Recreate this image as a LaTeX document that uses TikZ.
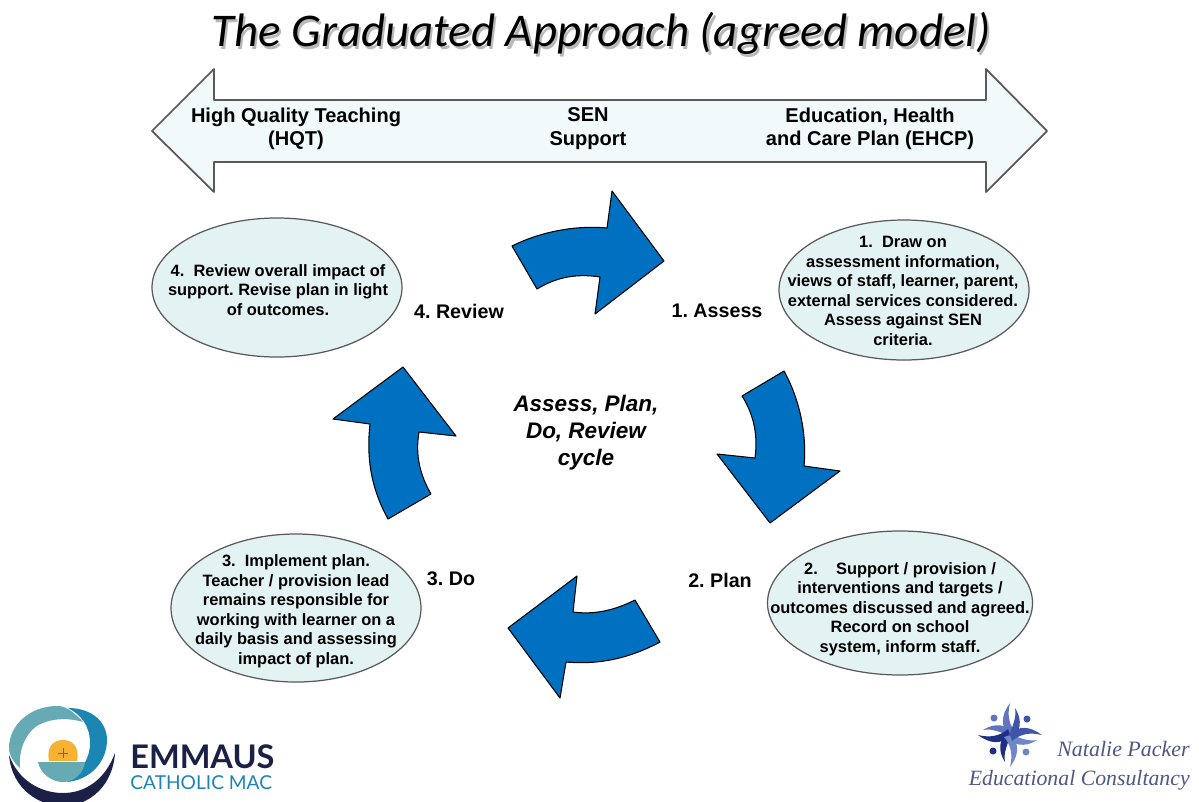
\documentclass[tikz,border=0pt]{standalone}
\usepackage{fontspec}
\setmainfont{Liberation Sans}
\newfontfamily\titlefont{Carlito}
\newfontfamily\logofont{Lato}
\newfontfamily\consfont{Liberation Serif}
\usetikzlibrary{shapes.geometric}
\definecolor{cycleblue}{HTML}{0070C0}
\definecolor{ovalfill}{HTML}{E3F2F3}
\definecolor{bandfill}{HTML}{F1F9FA}
\definecolor{mactealc}{HTML}{66ABB3}
\definecolor{macblue}{HTML}{1C86B3}
\definecolor{macnavy}{HTML}{1B2047}
\definecolor{macsun}{HTML}{F7B233}
\definecolor{consink}{HTML}{4F5784}
\definecolor{consa}{HTML}{6075BC}
\definecolor{consb}{HTML}{3F55AA}
\definecolor{consc}{HTML}{1F2F85}
\definecolor{consd}{HTML}{6F86C8}
\tikzset{
  cyclearrow/.style={draw=black, fill=cycleblue, line width=0.6pt, line join=round},
  oval/.style={ellipse, draw=black!65, fill=ovalfill, line width=0.7pt, inner sep=0pt},
  ovaltext/.style={align=center, inner sep=0pt, font=\fontsize{9.35}{11.1}\selectfont\bfseries},
  steplabel/.style={font=\fontsize{11.2}{13}\selectfont\bfseries},
  bandtext/.style={align=center, font=\fontsize{11.4}{13.2}\selectfont\bfseries},
}
\frenchspacing
\begin{document}
\begin{tikzpicture}[x=0.02cm, y=-0.02cm]
\useasboundingbox (0,0) rectangle (1199,801);
\fill[white] (0,0) rectangle (1199,801);
% title
\node[anchor=base, text=black!28, font=\fontsize{26.7}{30}\selectfont\titlefont\itshape] (titleshadow) at (603.5,49) {The Graduated Approach (agreed model)};
\node[anchor=base, font=\fontsize{26.7}{30}\selectfont\titlefont\itshape] (title) at (601,46.5) {The Graduated Approach (agreed model)};
% band
\draw[draw=black!65, fill=bandfill, line width=1pt, line join=round] (152,131) -- (214,69) -- (214,100) -- (986,100) -- (986,69) -- (1047,131) -- (986,192) -- (986,162) -- (214,162) -- (214,192) -- cycle;
\node[bandtext] (hqt) at (296,128.5) {High Quality Teaching\\(HQT)};
\node[bandtext] (sen) at (588,128.5) {SEN\\Support};
\node[bandtext] (ehcp) at (870,128.5) {Education, Health\\and Care Plan (EHCP)};
% cycle arrows
\draw[cyclearrow] (512,246) .. controls (540,232) and (575,225) .. (607,228) -- (612,191) -- (664,261) -- (595,314) -- (600,277) .. controls (575,273) and (555,278) .. (537,289) -- cycle;
\draw[cyclearrow] (784,371) .. controls (800,400) and (807,435) .. (804,466) -- (840,471) -- (770,523) -- (717,454) -- (755,458) .. controls (758,435) and (754,415) .. (742,396) -- cycle;
\draw[cyclearrow] (660,642) .. controls (630,658) and (600,665) .. (566,662) -- (560,698) -- (508,628) -- (577,576) -- (573,612) .. controls (595,615) and (615,610) .. (635,600) -- cycle;
\draw[cyclearrow] (388,519) .. controls (372,490) and (366,460) .. (370,424) -- (333,419) -- (403,367) -- (456,436) -- (419,432) .. controls (415,455) and (420,475) .. (431,494) -- cycle;
% ovals
\node[oval, minimum width=250*0.02cm, minimum height=140*0.02cm] (assessoval) at (904,290) {};
\node[ovaltext] (assesstext) at (903,291) {1.\ \ Draw on\\assessment information,\\views of staff, learner, parent,\\external services considered.\\Assess against SEN\\criteria.};
\node[oval, minimum width=265*0.02cm, minimum height=144*0.02cm] (planoval) at (900,603) {};
\node[ovaltext] (plantext) at (900,609) {2.\ \ \ \ Support / provision /\\interventions and targets /\\outcomes discussed and agreed.\\Record on school\\system, inform staff.};
\node[oval, minimum width=250*0.02cm, minimum height=148*0.02cm] (dooval) at (296,608) {};
\node[ovaltext] (dotext) at (296,611) {3.\ \ Implement plan.\\Teacher / provision lead\\remains responsible for\\working with learner on a\\daily basis and assessing\\impact of plan.};
\node[oval, minimum width=250*0.02cm, minimum height=139*0.02cm] (reviewoval) at (277,287.5) {};
\node[ovaltext] (reviewtext) at (278,290) {4.\ \ Review overall impact of\\support. Revise plan in light\\of outcomes.};
% step labels
\node[steplabel] (assess) at (717,311) {1. Assess};
\node[steplabel] (plan) at (720,580) {2. Plan};
\node[steplabel] (do) at (451,579) {3. Do};
\node[steplabel] (review) at (459,311) {4. Review};
\node[align=center, font=\fontsize{12.8}{15.3}\selectfont\bfseries\itshape] (cycle) at (586,433) {Assess, Plan,\\Do, Review\\cycle};
% emmaus logo
\fill[macnavy] (9,755) .. controls (12,790) and (40,806) .. (63,806) .. controls (90,806) and (113,785) .. (115,753) .. controls (105,780) and (85,793) .. (63,793) .. controls (40,793) and (18,780) .. (9,755) -- cycle;
\fill[macblue] (68,708) .. controls (92,708) and (107,722) .. (107,740) .. controls (107,762) and (90,780) .. (67,782) .. controls (80,772) and (90,760) .. (90,743) .. controls (90,725) and (80,714) .. (68,708) -- cycle;
\fill[mactealc] (83,722) .. controls (72,710) and (65,706) .. (57,706) .. controls (30,706) and (9,725) .. (9,748) .. controls (9,755) and (14,763) .. (20,768) .. controls (18,748) and (28,728) .. (43,723) .. controls (55,718) and (70,718) .. (83,722) -- cycle;
\fill[macsun] (49,761) .. controls (46,745) and (55,740) .. (63,740) .. controls (71,740) and (80,745) .. (77,761) -- cycle;
\draw[black!60, line width=0.5pt] (63,748) -- (63,758) (58,753) -- (68,753);
\fill[mactealc] (38,762) -- (85,762) .. controls (84,772) and (75,782) .. (63,782) .. controls (50,782) and (40,772) .. (38,762) -- cycle;
\node[anchor=base west, inner sep=0pt, text=macnavy, font=\fontsize{18.5}{22}\selectfont\logofont\bfseries] (emmaus) at (130,768) {EMMAUS};
\node[anchor=base west, inner sep=0pt, text=macblue, font=\fontsize{10.9}{13}\selectfont\logofont] (mac) at (130,789) {CATHOLIC MAC};
% consultancy logo
\foreach \angle/\shade in {0/consa,90/consc,180/consd,270/consb}{
  \begin{scope}[shift={(1010,735)}, rotate=\angle]
    \fill[\shade] (0,0) .. controls (-10,-8) and (-9,-20) .. (0,-32) .. controls (-3,-20) and (-1,-10) .. (6,-2) -- cycle;
    \fill[\shade] (1,1) .. controls (-8,-2) and (-18,-7) .. (-27,-5) .. controls (-18,-11) and (-8,-11) .. (-3,-7) -- cycle;
    \fill[\shade] (-16,-17) circle (3.5);
  \end{scope}
}
\node[anchor=base east, inner sep=0pt, text=consink, font=\fontsize{12.5}{15}\selectfont\consfont\itshape] (natalie) at (1190,756) {Natalie Packer};
\node[anchor=base east, inner sep=0pt, text=consink, font=\fontsize{12.4}{15}\selectfont\consfont\itshape] (consult) at (1190,785) {Educational Consultancy};
\end{tikzpicture}
\end{document}
